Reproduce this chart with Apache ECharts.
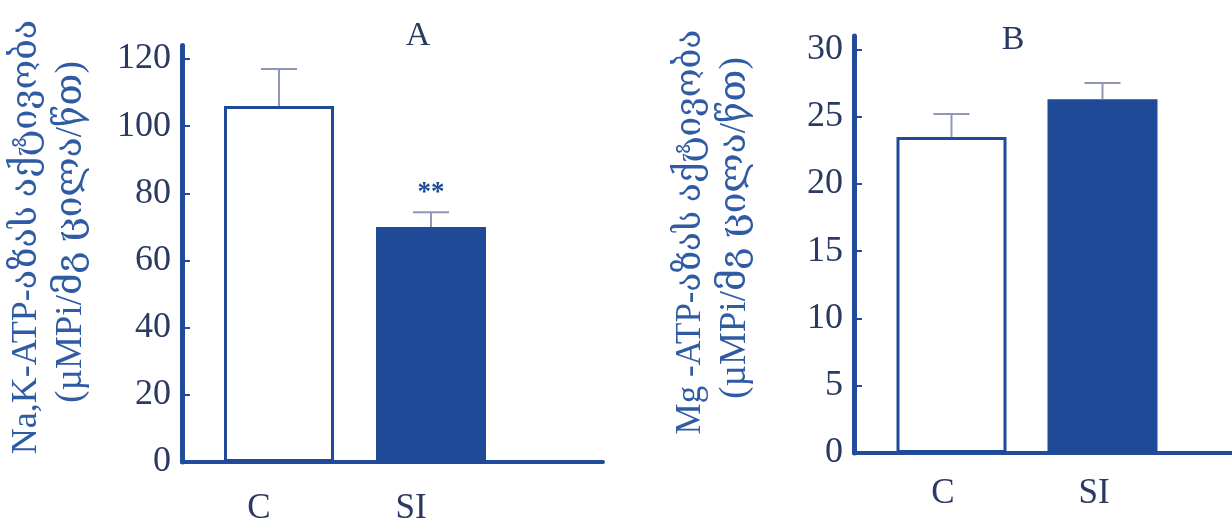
<!DOCTYPE html>
<html>
<head>
<meta charset="utf-8">
<script src="https://cdn.jsdelivr.net/npm/echarts@6/dist/echarts.min.js"></script>
<style>
  html, body { margin: 0; padding: 0; background: #ffffff; }
  #chart { width: 1232px; height: 522px; }
</style>
</head>
<body>
<div id="chart"></div>
<script>
// Groups on the horizontal axis
const categories = ['C', 'SI'];

// Panel A: Na,K-ATPase activity (mean, SEM, significance mark)
const naKMeans = [106, 70];
const naKErrors = [11, 4.4];
const naKMarks = ['', '**'];
const naKTicks = [0, 20, 40, 60, 80, 100, 120];

// Panel B: Mg-ATPase activity (mean, SEM)
const mgMeans = [23.5, 26.3];
const mgErrors = [1.7, 1.2];
const mgMarks = ['', ''];
const mgTicks = [0, 5, 10, 15, 20, 25, 30];

// Panel and axis texts
const panelTitles = ['A', 'B'];
const naKAxisTitle = ['Na,K-ATP-აზას აქტივობა', '(µMPi/მგ ცილა/წთ)'];
const mgAxisTitle = ['Mg -ATP-აზას აქტივობა', '(µMPi/მგ ცილა/წთ)'];

const NAVY = '#1f4a98';
const AXIS = '#234b9c';
const TEXT = '#2b3a62';
const TITLE_BLUE = '#2f5aa4';
const ERR = '#9096b8';
const SERIF = "'Liberation Serif', 'DejaVu Serif', serif";

function errorBars(marks) {
  return function (params, api) {
    const x = api.value(0);
    const v = api.value(1);
    const e = api.value(2);
    const base = api.coord([x, v]);
    const top = api.coord([x, v + e]);
    const half = 18;
    const children = [
      { type: 'line', shape: { x1: base[0], y1: base[1], x2: top[0], y2: top[1] },
        style: { stroke: ERR, lineWidth: 2 } },
      { type: 'line', shape: { x1: top[0] - half, y1: top[1], x2: top[0] + half, y2: top[1] },
        style: { stroke: ERR, lineWidth: 2 } }
    ];
    const mark = marks[params.dataIndex];
    if (mark) {
      children.push({ type: 'text', x: top[0], y: top[1] - 19,
        style: { text: mark, fill: NAVY, font: 'bold 27px ' + SERIF,
                 textAlign: 'center', textVerticalAlign: 'middle' } });
    }
    return { type: 'group', children: children };
  };
}

function frameXAxis(gridIndex) {
  return {
    type: 'value', gridIndex: gridIndex, min: 0, max: 1,
    axisLine: { show: true, lineStyle: { color: AXIS, width: 4 } },
    axisTick: { show: false }, axisLabel: { show: false }, splitLine: { show: false }
  };
}

function barXAxis(gridIndex, shift, margin) {
  return {
    type: 'category', gridIndex: gridIndex, data: categories,
    axisLine: { show: false }, axisTick: { show: false }, splitLine: { show: false },
    axisLabel: { margin: margin, color: TEXT, fontFamily: SERIF, fontSize: 35,
                 padding: [0, shift, 0, 0] }
  };
}

function frameYAxis(gridIndex, max, ticks) {
  return {
    type: 'value', gridIndex: gridIndex, min: 0, max: max,
    axisLine: { show: true, lineStyle: { color: AXIS, width: 5 } },
    axisTick: { show: true, inside: true, length: 8, customValues: ticks,
                lineStyle: { color: AXIS, width: 2 } },
    axisLabel: { customValues: ticks, margin: 11, color: TEXT, fontFamily: SERIF,
                 fontSize: 36, padding: [6, 0, 0, 0] },
    splitLine: { show: false }
  };
}

function hiddenYAxis(gridIndex, max) {
  return { type: 'value', gridIndex: gridIndex, min: 0, max: max, show: false,
           splitLine: { show: false } };
}

function barSeries(axisIndex, values) {
  return {
    type: 'bar', xAxisIndex: axisIndex, yAxisIndex: axisIndex, data: values,
    barWidth: 110, z: 3,
    itemStyle: {
      color: function (p) { return p.dataIndex === 0 ? '#ffffff' : NAVY; },
      borderColor: NAVY, borderWidth: 3
    }
  };
}

function errorSeries(axisIndex, values, errors, marks) {
  return {
    type: 'custom', xAxisIndex: axisIndex, yAxisIndex: axisIndex, z: 4,
    renderItem: errorBars(marks),
    data: values.map(function (v, i) { return [i, v, errors[i]]; })
  };
}

// One rotated line of a vertical axis title, centred on (cx, cy)
function titleLine(text, cx, cy, size) {
  return {
    type: 'text', x: cx, y: cy, rotation: Math.PI / 2,
    style: { text: text, fill: TITLE_BLUE, font: size + 'px ' + SERIF,
             textAlign: 'center', textVerticalAlign: 'middle' }
  };
}

function grid(left, right, top, bottom) {
  return { left: left, right: right, top: top, bottom: bottom, outerBoundsMode: 'none' };
}

const chart = echarts.init(document.getElementById('chart'), null, { renderer: 'canvas' });
chart.setOption({
  animation: false,
  backgroundColor: '#ffffff',
  title: [
    { text: panelTitles[0], left: 413, top: 14, textAlign: 'center',
      textStyle: { color: TEXT, fontFamily: SERIF, fontSize: 34, fontWeight: 'normal' } },
    { text: panelTitles[1], left: 1008, top: 18, textAlign: 'center',
      textStyle: { color: TEXT, fontFamily: SERIF, fontSize: 34, fontWeight: 'normal' } }
  ],
  grid: [
    grid(182, 629, 45.6, 60),
    grid(203, 725, 45.6, 60),
    grid(854, 0, 36, 69),
    grid(876, 54, 36, 69)
  ],
  xAxis: [
    frameXAxis(0),
    barXAxis(1, 40, 29),
    frameXAxis(2),
    barXAxis(3, 17, 23)
  ],
  yAxis: [
    frameYAxis(0, 124, naKTicks),
    hiddenYAxis(1, 124),
    frameYAxis(2, 31, mgTicks),
    hiddenYAxis(3, 31)
  ],
  series: [
    barSeries(1, naKMeans),
    errorSeries(1, naKMeans, naKErrors, naKMarks),
    barSeries(3, mgMeans),
    errorSeries(3, mgMeans, mgErrors, mgMarks)
  ],
  graphic: [
    titleLine(naKAxisTitle[0], 27, 237, 36),
    titleLine(naKAxisTitle[1], 71, 232, 37),
    titleLine(mgAxisTitle[0], 691, 232, 35),
    titleLine(mgAxisTitle[1], 735, 228, 37)
  ]
});
</script>
</body>
</html>
